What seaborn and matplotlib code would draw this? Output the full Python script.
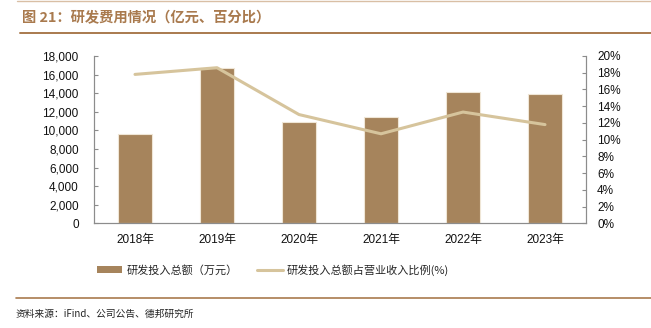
import numpy as np
import pandas as pd
import matplotlib
matplotlib.use("Agg")
import matplotlib.pyplot as plt
import seaborn as sns
from matplotlib.patches import Patch
from matplotlib.lines import Line2D

years = ["2018年", "2019年", "2020年", "2021年", "2022年", "2023年"]
rd_amount = [9600, 16750, 10950, 11450, 14150, 13950]
rd_ratio = [17.8, 18.6, 13.0, 10.7, 13.3, 11.8]
left_ticks = [0, 2000, 4000, 6000, 8000, 10000, 12000, 14000, 16000, 18000]
right_ticks = [0, 2, 4, 6, 8, 10, 12, 14, 16, 18, 20]
bar_label = "研发投入总额（万元）"
line_label = "研发投入总额占营业收入比例(%)"
title = "图 21：研发费用情况（亿元、百分比）"
source = "资料来源：iFind、公司公告、德邦研究所"

sns.set_style("white")
plt.rcParams['font.family'] = ['Liberation Sans', 'Noto Sans CJK SC', 'DejaVu Sans']

BAR = "#A6845C"
LINE = "#D6C49C"
BROWN = "#A97A4E"
SPINE = "#8C8C8C"

df = pd.DataFrame({"year": years, "amount": rd_amount, "ratio": rd_ratio})

fig = plt.figure(figsize=(6.51, 3.28), dpi=100)
ax = fig.add_axes([94/651, 1-223.3/328, (586-94)/651, (223.3-56)/328])
sns.barplot(data=df, x="year", y="amount", color=BAR, width=0.41, ax=ax,
            edgecolor="#EFE6D6", linewidth=0.8, saturation=1)
ax2 = ax.twinx()
sns.lineplot(data=df, x="year", y="ratio", color=LINE, linewidth=2.2, ax=ax2, sort=False)

ax.set_xlim(-0.5, 5.5)
ax.set_ylim(0, 18000)
ax2.set_ylim(0, 20)
ax.set_yticks(left_ticks)
ax.set_yticklabels([f"{v:,}" for v in left_ticks])
ax2.set_yticks(right_ticks)
ax2.set_yticklabels([f"{v}%" for v in right_ticks])
ax.set_xlabel("")
ax.set_ylabel("")
ax2.set_xlabel("")
ax2.set_ylabel("")

for a in (ax, ax2):
    for s in a.spines.values():
        s.set_color(SPINE)
        s.set_linewidth(0.8)
    a.spines["top"].set_visible(False)

ax.set_xticks(np.arange(-0.5, 6, 1), minor=True)
ax.tick_params(axis="x", which="major", length=0, pad=8, labelsize=8.5, labelcolor="#111111")
ax.tick_params(axis="x", which="minor", direction="in", length=3, color=SPINE, width=0.8)
ax.tick_params(axis="y", direction="in", length=3, color=SPINE, width=0.8, pad=11,
               labelsize=8.5, labelcolor="#111111", left=True)
ax2.tick_params(axis="y", direction="in", length=3, color=SPINE, width=0.8, pad=8,
                labelsize=8.5, labelcolor="#111111", right=True)

# title and rules
fig.text(22/651, 1-18/328, title, fontsize=10.3, fontweight="bold", color=BROWN,
         va="center", ha="left", family=['Noto Sans CJK SC', 'DejaVu Sans'])
fig.add_artist(Line2D([20/651, 1], [1-32.5/328]*2, color=BROWN, linewidth=1.4))
fig.add_artist(Line2D([17/651, 1], [0.998]*2, color="#D9BFA5", linewidth=1.0))
fig.add_artist(Line2D([16/651, 1], [1-297.7/328]*2, color=BROWN, linewidth=1.2))
fig.text(16/651, 1-314/328, source, fontsize=7, color="#222222", va="center", ha="left",
         family=['Noto Sans CJK SC', 'DejaVu Sans'])

handles = [Patch(facecolor=BAR, edgecolor="none"),
           Line2D([0], [0], color=LINE, linewidth=2.2)]
fig.legend(handles, [bar_label, line_label], loc="center", bbox_to_anchor=(273/651, 1-270/328),
           ncol=2, frameon=False, handlelength=2.3, handleheight=0.6,
           handletextpad=0.4, columnspacing=1.7,
           prop={"family": ['Noto Sans CJK SC', 'DejaVu Sans'], "size": 8})

fig.savefig("out.png", dpi=100)
